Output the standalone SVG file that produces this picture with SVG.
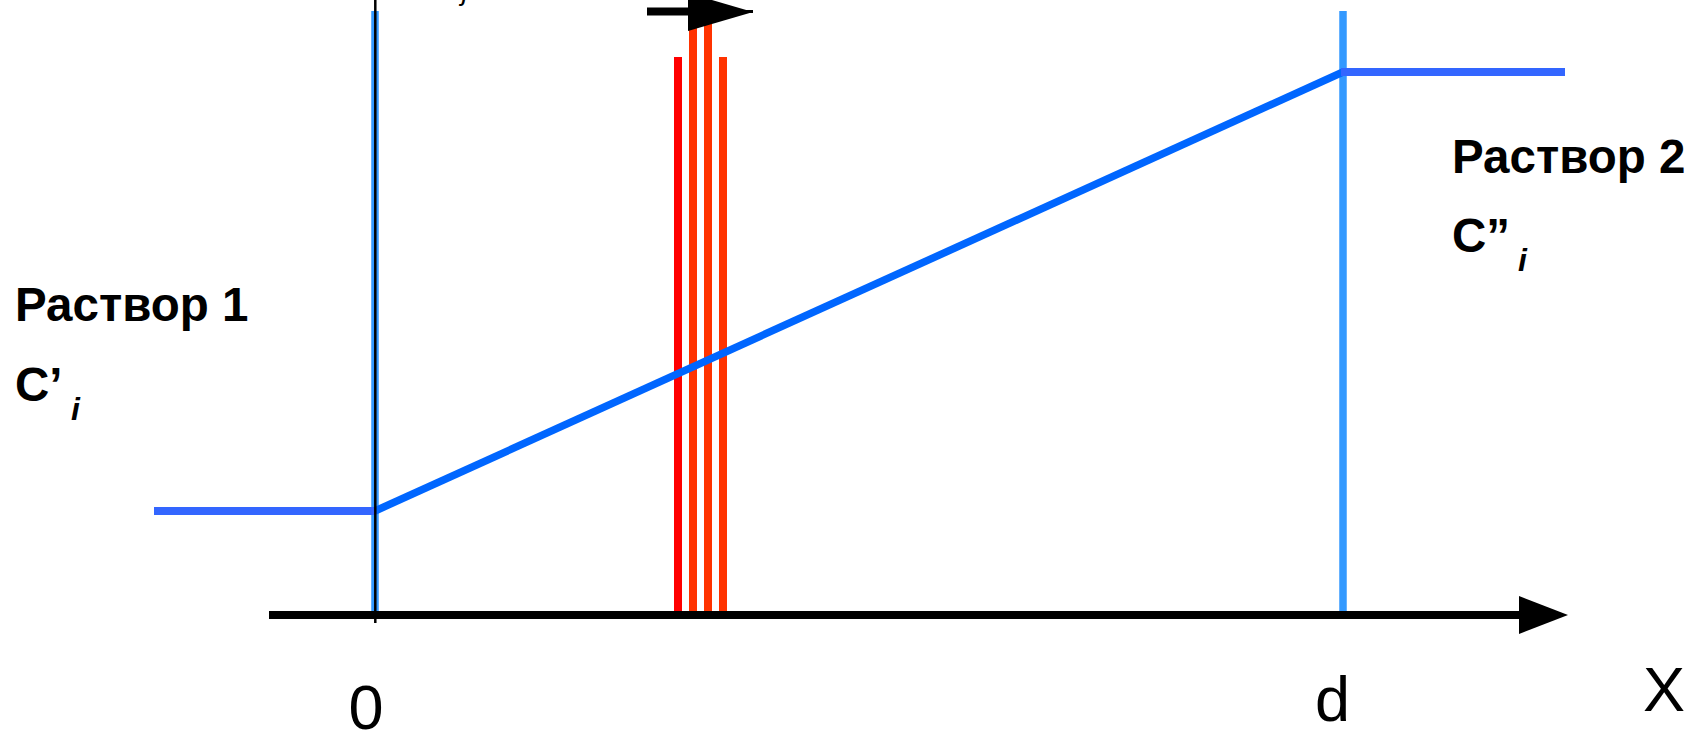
<svg xmlns="http://www.w3.org/2000/svg" width="1700" height="733" viewBox="0 0 1700 733">
  <style>
    .lbl { font-family: "Liberation Sans", Arial, sans-serif; font-weight: bold; font-size: 47.5px; fill: #000; }
    .sub { font-family: "Liberation Sans", Arial, sans-serif; font-weight: bold; font-style: italic; font-size: 32px; fill: #000; }
    .ax { font-family: "Liberation Sans", Arial, sans-serif; font-size: 63px; fill: #000; }
    .wall { stroke: #3399FF; stroke-width: 7.5; fill: none; }
    .prof { stroke: #3366FF; stroke-width: 8; fill: none; }
    .slope { stroke: #0066FF; stroke-width: 7.5; fill: none; }
    .red1 { fill: #FF0000; }
    .red2 { fill: #FF3300; }
  </style>
  <rect width="1700" height="733" fill="#ffffff"/>

  <g id="walls">
    <line class="wall" x1="375" y1="11" x2="375" y2="618"/>
    <line class="wall" x1="1343" y1="11" x2="1343" y2="616"/>
  </g>

  <g id="membrane">
    <rect class="red1" x="674" y="57" width="8" height="560"/>
    <rect class="red2" x="689" y="0" width="8" height="617"/>
    <rect class="red2" x="704" y="0" width="8" height="617"/>
    <rect class="red2" x="719" y="57" width="8" height="560"/>
  </g>

  <g id="connectors">
    <line x1="269" y1="615" x2="1522" y2="615" stroke="#000" stroke-width="8"/>
    <polygon points="1519,596 1568,615 1519,634" fill="#000"/>
    <line x1="647" y1="11.5" x2="700" y2="11.5" stroke="#000" stroke-width="8"/>
    <line x1="700" y1="11.5" x2="753" y2="11.5" stroke="#000" stroke-width="3"/>
    <polygon points="688,-7 753,12 688,31" fill="#000"/>
  </g>

  <g id="profile">
    <line class="prof" x1="154" y1="511" x2="374" y2="511"/>
    <line class="slope" x1="375" y1="511" x2="1343" y2="72"/>
    <line class="prof" x1="1341" y1="72" x2="1565" y2="72"/>
  </g>

  <line id="origin-line" x1="375.3" y1="0" x2="375.3" y2="623" stroke="#000" stroke-width="2.5"/>

  <g id="solution1">
    <text class="lbl" x="15" y="321">Раствор 1</text>
    <text class="lbl" x="15" y="401">C’</text>
    <text class="sub" x="71" y="420">i</text>
  </g>

  <g id="solution2">
    <text class="lbl" x="1452" y="173">Раствор 2</text>
    <text class="lbl" x="1452" y="252">C”</text>
    <text class="sub" x="1518" y="271">i</text>
  </g>

  <g id="axis-labels">
    <text class="ax" x="366" y="729" text-anchor="middle">0</text>
    <text class="ax" x="1315" y="721">d</text>
    <text class="ax" x="1643" y="711">X</text>
  </g>

  <text id="top-fragment" x="462" y="0" font-family="Liberation Sans, Arial, sans-serif" font-style="italic" font-size="28">j</text>
</svg>
